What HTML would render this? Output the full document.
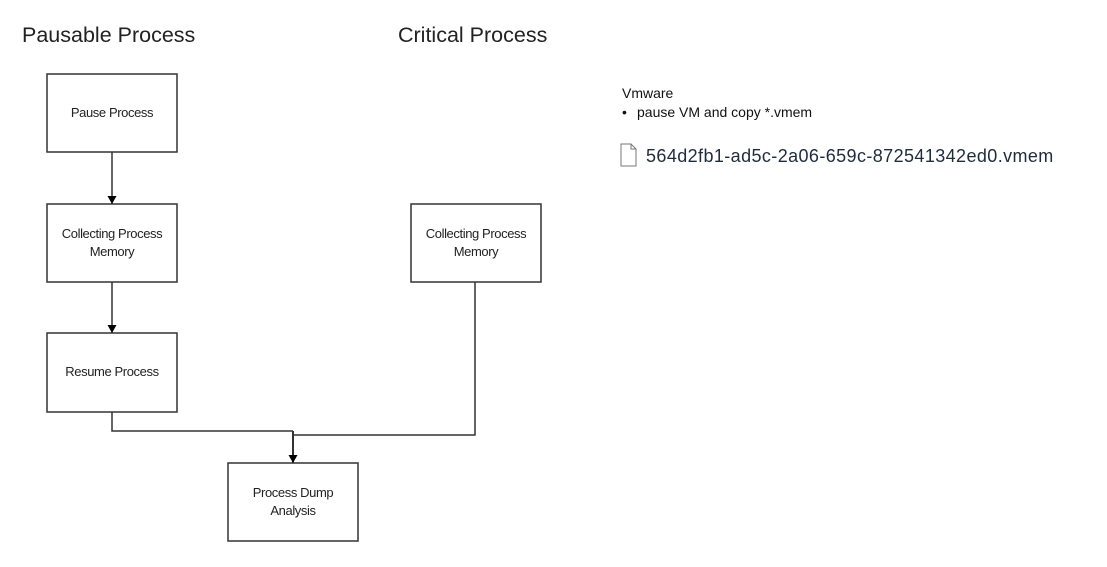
<!DOCTYPE html>
<html><head><meta charset="utf-8"><style>
body{margin:0;width:1107px;height:562px;background:#fff;overflow:hidden;font-family:"Liberation Sans",Arial,sans-serif}
</style></head><body>
<svg width="1107" height="562" xmlns="http://www.w3.org/2000/svg" font-family="Liberation Sans, Arial, sans-serif">
<defs><marker id="a" markerWidth="10" markerHeight="10" refX="9" refY="5" orient="auto" markerUnits="userSpaceOnUse"><path d="M1,0.5 L9,5 L1,9.5 Z" fill="#000"/></marker></defs>
<text x="22" y="42" font-size="21.5" fill="#222">Pausable Process</text>
<text x="398" y="42" font-size="21.5" fill="#222">Critical Process</text>
<g fill="#fff" stroke="#333" stroke-width="1.5">
<rect x="47" y="74" width="130" height="78"/>
<rect x="47" y="204" width="130" height="78"/>
<rect x="47" y="333" width="130" height="79"/>
<rect x="411" y="204" width="130" height="78"/>
<rect x="228" y="463" width="130" height="78"/>
</g>
<g font-size="13" fill="#222" text-anchor="middle" letter-spacing="-0.4">
<text x="112" y="117">Pause Process</text>
<text x="112" y="238">Collecting Process</text>
<text x="112" y="256">Memory</text>
<text x="112" y="376">Resume Process</text>
<text x="476" y="238">Collecting Process</text>
<text x="476" y="256">Memory</text>
<text x="293" y="497">Process Dump</text>
<text x="293" y="515">Analysis</text>
</g>
<g fill="none" stroke="#333" stroke-width="1.5">
<line x1="112" y1="152" x2="112" y2="204" marker-end="url(#a)"/>
<line x1="112" y1="282" x2="112" y2="333" marker-end="url(#a)"/>
<polyline points="112,412 112,431 293,431"/>
<polyline points="475,282 475,435 293,435"/>
<line x1="293" y1="431" x2="293" y2="463" stroke-width="2" marker-end="url(#a)"/>
</g>
<text x="622" y="98" font-size="14" fill="#111">Vmware</text>
<text x="622" y="117" font-size="14" fill="#111">•</text>
<text x="637" y="117" font-size="14" fill="#111">pause VM and copy *.vmem</text>
<path d="M621,144 L631,144 L636,149 L636,166 L621,166 Z M631,144 L631,149 L636,149" fill="#fff" stroke="#777" stroke-width="1"/>
<text x="646" y="162" font-size="18" letter-spacing="0.4" fill="#1e2c3e">564d2fb1-ad5c-2a06-659c-872541342ed0.vmem</text>
</svg>
</body></html>
